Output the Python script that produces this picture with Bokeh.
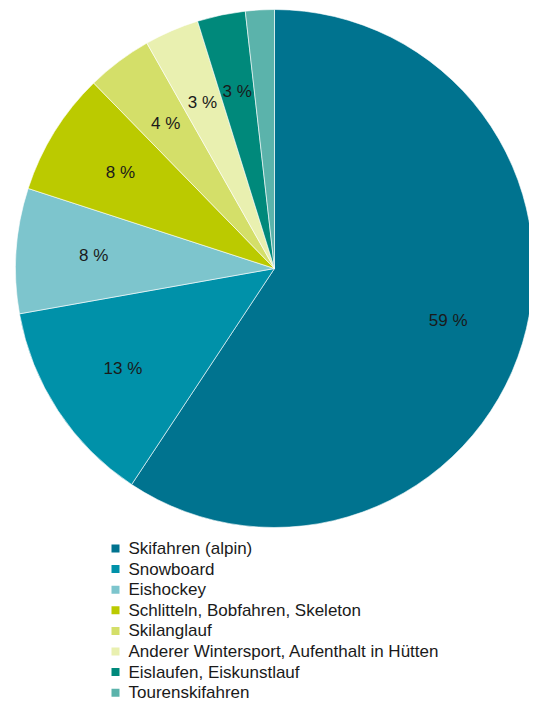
import numpy as np
from bokeh.plotting import figure
from bokeh.models import Range1d, ColumnDataSource
from bokeh.core.properties import value
from bokeh.embed import file_html
from bokeh.resources import INLINE

categories = ["Skifahren (alpin)", "Snowboard", "Eishockey",
              "Schlitteln, Bobfahren, Skeleton", "Skilanglauf",
              "Anderer Wintersport, Aufenthalt in Hütten",
              "Eislaufen, Eiskunstlauf", "Tourenskifahren"]
shares = [59.3, 12.9, 7.8, 7.7, 4.1, 3.4, 3.0, 1.8]
labels = ["59 %", "13 %", "8 %", "8 %", "4 %", "3 %", "3 %", ""]
colors = ["#00738F", "#0091A9", "#7DC5CD", "#BBCA00", "#D4DF69",
          "#E9F0B0", "#00897B", "#5BB3AB"]

W, H = 529, 702
FONT = "Liberation Sans"

p = figure(width=W, height=H, output_backend="svg", toolbar_location=None,
           x_range=Range1d(0, W), y_range=Range1d(0, H), min_border=0)
p.axis.visible = False
p.grid.visible = False
p.outline_line_color = None
p.background_fill_color = "white"

# pie geometry in picture pixels (from top-left)
cx, cy, r = 274, H - 268, 259
vals = np.array(shares, dtype=float)
frac = vals / vals.sum()
cum = np.concatenate([[0], np.cumsum(frac)])
start = np.pi / 2 - 2 * np.pi * cum[:-1]
end = np.pi / 2 - 2 * np.pi * cum[1:]
mid = (start + end) / 2

src = ColumnDataSource(dict(start=start, end=end, color=colors,
                            lx=cx + 0.7 * r * np.cos(mid),
                            ly=cy + 0.7 * r * np.sin(mid),
                            label=labels))
p.wedge(x=cx, y=cy, radius=r, start_angle="start", end_angle="end",
        direction="clock", fill_color="color", line_color="white",
        line_width=0.6, source=src)
p.text(x="lx", y="ly", text="label", source=src, text_align="center",
       text_baseline="middle", text_font=value(FONT),
       text_font_size="17px", text_color="#1a1a1a")

# legend
n = len(categories)
ly = [H - (548 + i * 20.6) for i in range(n)]
leg = ColumnDataSource(dict(y=ly, color=colors, name=categories))
p.rect(x=115, y="y", width=8, height=8, width_units="screen",
       height_units="screen", fill_color="color", line_color=None, source=leg)
p.text(x=128, y="y", text="name", source=leg, text_align="left",
       text_baseline="middle", text_font=value(FONT),
       text_font_size="17px", text_color="#1a1a1a")

open("out.html", "w").write(file_html(p, INLINE))
